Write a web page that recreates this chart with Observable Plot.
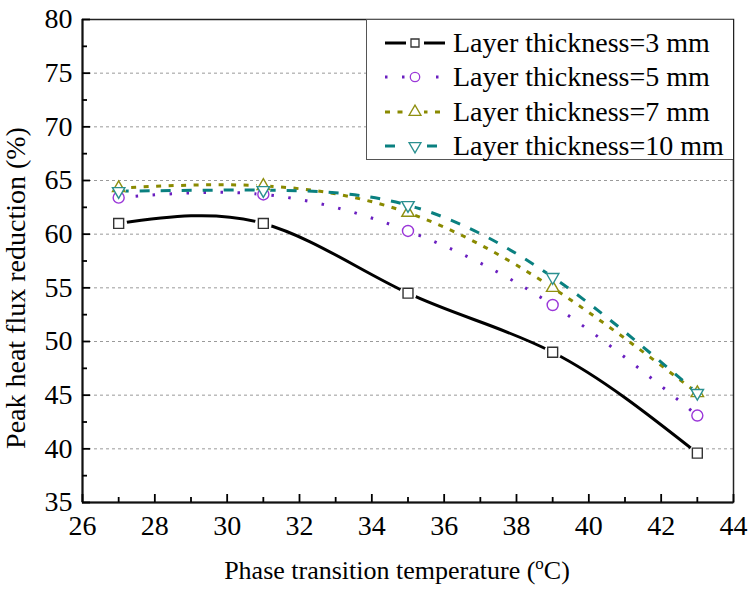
<!DOCTYPE html>
<html>
<head>
<meta charset="utf-8">
<script src="https://cdn.jsdelivr.net/npm/d3@7"></script>
<script src="https://cdn.jsdelivr.net/npm/@observablehq/plot@0.6"></script>
<style>
  body { margin: 0; background: #fff; }
  #chart { position: relative; width: 748px; height: 592px; font-family: "Liberation Serif", Tinos, "Times New Roman", "DejaVu Serif", serif; color: #000; }
  #chart svg { display: block; }
  #legend { position: absolute; left: 366px; top: 19px; width: 367px; height: 141px; border: 1px solid #555; border-right: none; background: #fff; box-sizing: border-box; }
  .row { position: absolute; left: 0; height: 28px; width: 100%; }
  .row svg { position: absolute; left: 18px; top: 2px; }
  .row span { position: absolute; left: 86px; top: 0; font-size: 28px; line-height: 28px; white-space: nowrap; }
</style>
</head>
<body>
<div id="chart"></div>
<script>
// Phase transition temperature (°C)
const temperature = [27, 31, 35, 39, 43];

// Peak heat flux reduction (%) for each PCM layer thickness
const thick3 = [61.0, 61.0, 54.5, 49.0, 39.6];
const thick5 = [63.4, 63.7, 60.3, 53.4, 43.1];
const thick7 = [64.3, 64.5, 62.0, 55.0, 45.2];
const thick10 = [64.0, 64.1, 62.7, 56.0, 45.2];

const seriesNames = [
  "Layer thickness=3 mm",
  "Layer thickness=5 mm",
  "Layer thickness=7 mm",
  "Layer thickness=10 mm"
];

const xTicks = [26, 28, 30, 32, 34, 36, 38, 40, 42, 44];
const yTicks = [35, 40, 45, 50, 55, 60, 65, 70, 75, 80];

// Drawing style per series
const styles = [
  { line: "#000000", marker: "#333333", dash: null, symbol: "square", r: 5.6, rotate: 0, halo: 8.5 },
  { line: "#6a1fc0", marker: "#9a36d8", dash: "2.5,14.5", symbol: "circle", r: 5.5, rotate: 0, halo: 7 },
  { line: "#8a8a00", marker: "#8f8f10", dash: "5,7.5", symbol: "triangle", r: 4.6, rotate: 0, halo: 7 },
  { line: "#0a8080", marker: "#2a9090", dash: "10,11", symbol: "triangle", r: 4.6, rotate: 180, halo: 7 }
];

const serif = "'Liberation Serif', Tinos, 'Times New Roman', 'DejaVu Serif', serif";

const values = [thick3, thick5, thick7, thick10];
const series = values.map((vals, k) =>
  temperature.map((t, i) => ({ t, v: vals[i], name: seriesNames[k] }))
);

const lineMarks = series.map((rows, k) =>
  Plot.line(rows, {
    x: "t", y: "v", curve: "natural",
    stroke: styles[k].line, strokeWidth: 3,
    strokeDasharray: styles[k].dash, strokeLinecap: "butt"
  })
);
const haloMarks = series.map((rows, k) =>
  Plot.dot(rows, { x: "t", y: "v", r: styles[k].halo, fill: "white", stroke: null })
);
const markerMarks = series.map((rows, k) =>
  Plot.dot(rows, {
    x: "t", y: "v", symbol: styles[k].symbol, r: styles[k].r, rotate: styles[k].rotate,
    fill: "white", stroke: styles[k].marker, strokeWidth: 1.4
  })
);

const chart = Plot.plot({
  width: 748,
  height: 592,
  marginLeft: 82,
  marginRight: 15,
  marginTop: 19,
  marginBottom: 90,
  style: { fontFamily: serif, color: "#000", background: "#fff" },
  x: { domain: [26, 44] },
  y: { domain: [35, 80] },
  marks: [
    Plot.gridY(yTicks.filter(v => v > 35 && v < 80), { stroke: "#9a9a9a", strokeOpacity: 1, strokeDasharray: "3,3", strokeWidth: 1 }),
    ...lineMarks,
    ...haloMarks,
    ...markerMarks,
    Plot.frame({ stroke: "#222", strokeWidth: 1.5 }),
    Plot.ruleX([26], { stroke: "#111", strokeWidth: 2 }),
    Plot.ruleY([35], { stroke: "#111", strokeWidth: 2 }),
    Plot.axisY(yTicks, { tickSize: -8, tickPadding: 18, fontSize: 28, strokeWidth: 1.8, label: null }),
    Plot.axisY(d3.range(37.5, 80, 5), { tickSize: -5, tickFormat: () => "", strokeWidth: 1.8, label: null }),
    Plot.axisX(xTicks, { tickSize: -8, tickPadding: 21, fontSize: 28, strokeWidth: 1.8, label: null }),
    Plot.axisX(d3.range(27, 44, 2), { tickSize: -5, tickFormat: () => "", strokeWidth: 1.8, label: null }),
    Plot.text(["Peak heat flux reduction (%)"], {
      frameAnchor: "left", textAnchor: "middle", rotate: -90, dx: -66, dy: 27,
      fontSize: 28, lineAnchor: "middle", fill: "#000"
    }),
    Plot.text(["Phase transition temperature (oC)"], {
      frameAnchor: "bottom", textAnchor: "middle", dx: -11, dy: 68,
      fontSize: 26, lineAnchor: "middle", fill: "#000"
    })
  ]
});

const host = document.getElementById("chart");
host.appendChild(chart);

// Superscript "o" in the x-axis title
d3.select(chart).selectAll("text").each(function () {
  if (this.textContent === "Phase transition temperature (oC)") {
    const t = d3.select(this);
    t.text("Phase transition temperature (");
    t.append("tspan").attr("font-size", 17).attr("dy", -10).text("o");
    t.append("tspan").attr("dy", 10).text("C)");
  }
});

// Legend box in the upper right of the plot area
const legend = document.createElement("div");
legend.id = "legend";
host.appendChild(legend);
seriesNames.forEach((name, k) => {
  const s = styles[k];
  const row = document.createElement("div");
  row.className = "row";
  row.style.top = (9 + k * 34.3) + "px";
  const svg = d3.create("svg").attr("width", 62).attr("height", 24);
  svg.append("line").attr("x1", 0).attr("x2", 60).attr("y1", 12).attr("y2", 12)
    .attr("stroke", s.line).attr("stroke-width", 3).attr("stroke-dasharray", s.dash);
  svg.append("rect").attr("x", 21).attr("y", 2).attr("width", 18).attr("height", 20).attr("fill", "white");
  const sym = s.symbol === "square" ? d3.symbolSquare : s.symbol === "circle" ? d3.symbolCircle : d3.symbolTriangle;
  const size = s.symbol === "square" ? 64 : s.symbol === "circle" ? 70 : 62;
  svg.append("path").attr("d", d3.symbol(sym, size)())
    .attr("transform", `translate(30,12) rotate(${s.rotate})`)
    .attr("fill", "white").attr("stroke", s.marker).attr("stroke-width", 1.3);
  row.appendChild(svg.node());
  const label = document.createElement("span");
  label.textContent = name;
  label.style.fontFamily = serif;
  row.appendChild(label);
  legend.appendChild(row);
});
</script>
</body>
</html>
